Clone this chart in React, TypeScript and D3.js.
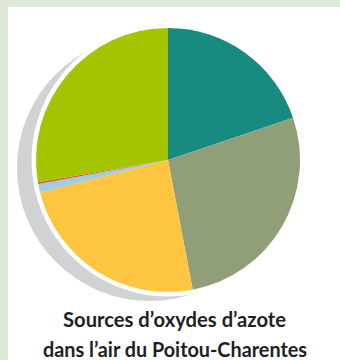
import React from "react";
import * as d3 from "d3";

const categories = ["Source A", "Source B", "Source C", "Source D", "Source E", "Source F"];
const values = [19.8, 27.2, 24.0, 1.1, 0.2, 27.7];
const colors = ["#178b80", "#919f78", "#fec640", "#a6cbdc", "#e0503a", "#a5c400"];
const titleLines = ["Sources d\u2019oxydes d\u2019azote", "dans l\u2019air du Poitou-Charentes"];

export default function App() {
  const W = 340, H = 360;
  const cx = 168, cy = 160, r = 132;
  const data = categories.map((c, i) => ({ c, v: values[i], color: colors[i] }));
  const pie = d3.pie<any>().value((d) => d.v).sort(null).startAngle(0).endAngle(2 * Math.PI);
  const arc = d3.arc<any>().innerRadius(0).outerRadius(r);
  const arcs = pie(data);
  return (
    <svg width={W} height={H} style={{ position: "absolute", left: 0, top: 0 }}>
      <rect x={0} y={0} width={W} height={H} fill="#dfe7d6" />
      <rect x={8} y={7} width={W - 8} height={H - 7} fill="#ffffff" />
      <circle cx={150} cy={168} r={133} fill="#d1d2d4" />
      <circle cx={cx} cy={cy} r={r + 4.5} fill="#ffffff" />
      <g transform={`translate(${cx},${cy})`}>
        {arcs.map((a, i) => (
          <path key={i} d={arc(a) as string} fill={a.data.color} />
        ))}
      </g>
      <text x={174.5} y={327} textAnchor="middle" fontFamily="Lato, 'Open Sans', sans-serif" fontWeight="bold" fontSize={21}
        fill="#231f20" textLength={223} lengthAdjust="spacingAndGlyphs">{titleLines[0]}</text>
      <text x={175} y={357} textAnchor="middle" fontFamily="Lato, 'Open Sans', sans-serif" fontWeight="bold" fontSize={21}
        fill="#231f20" textLength={264} lengthAdjust="spacingAndGlyphs">{titleLines[1]}</text>
    </svg>
  );
}
